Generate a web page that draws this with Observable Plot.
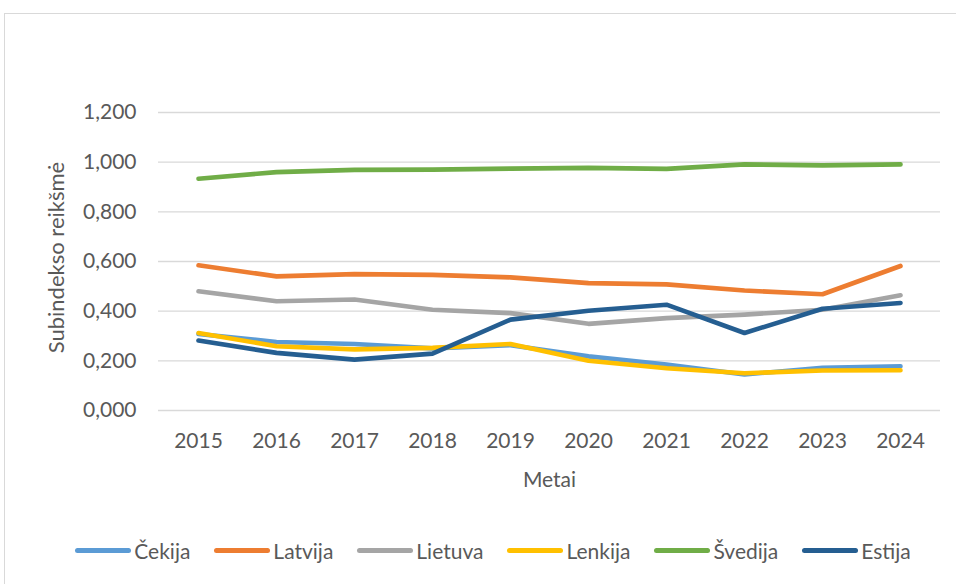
<!DOCTYPE html>
<html><head><meta charset="utf-8">
<script src="https://cdn.jsdelivr.net/npm/d3@7"></script>
<script src="https://cdn.jsdelivr.net/npm/@observablehq/plot@0.6"></script>
<style>
html,body{margin:0;padding:0;background:#fff;overflow:hidden;width:956px;height:584px;position:relative;}
#frame{position:absolute;left:4px;top:13px;width:1100px;height:700px;border:1px solid #d9d9d9;box-sizing:border-box;}
#chart{position:absolute;left:0;top:0;}
#chart svg{display:block;}
#legend{position:absolute;left:0;top:535px;width:956px;height:30px;padding-left:30px;box-sizing:border-box;display:flex;justify-content:center;align-items:center;gap:24px;font-family:Lato,sans-serif;font-size:21px;color:#595959;}
.item{display:flex;align-items:center;}
.sw{width:56px;height:5px;border-radius:3px;margin-right:3px;}
</style>
</head><body>
<div id="frame"></div>
<div id="chart"></div>
<div id="legend"></div>
<script>
const years = [2015, 2016, 2017, 2018, 2019, 2020, 2021, 2022, 2023, 2024];
const countries = ["Čekija", "Latvija", "Lietuva", "Lenkija", "Švedija", "Estija"];
const colors = ["#5B9BD5", "#ED7D31", "#A5A5A5", "#FFC000", "#70AD47", "#255E91"];

const cekija  = [0.308, 0.276, 0.268, 0.250, 0.263, 0.218, 0.185, 0.145, 0.172, 0.178];
const latvija = [0.585, 0.540, 0.549, 0.546, 0.536, 0.513, 0.508, 0.483, 0.468, 0.582];
const lietuva = [0.480, 0.440, 0.447, 0.406, 0.392, 0.349, 0.372, 0.386, 0.406, 0.464];
const lenkija = [0.312, 0.259, 0.246, 0.252, 0.268, 0.200, 0.170, 0.150, 0.161, 0.162];
const svedija = [0.933, 0.960, 0.969, 0.970, 0.974, 0.977, 0.973, 0.991, 0.987, 0.991];
const estija  = [0.282, 0.232, 0.205, 0.229, 0.366, 0.402, 0.426, 0.312, 0.410, 0.433];

const yTicks = [0, 0.2, 0.4, 0.6, 0.8, 1.0, 1.2];
const yTickLabels = ["0,000", "0,200", "0,400", "0,600", "0,800", "1,000", "1,200"];
const xLabel = "Metai";
const yLabel = "Subindekso reikšmė";

const series = [cekija, latvija, lietuva, lenkija, svedija, estija];
const rows = [];
countries.forEach((c, i) => series[i].forEach((v, j) => rows.push({country: c, year: years[j], value: v})));

const chart = Plot.plot({
  width: 956,
  height: 500,
  marginTop: 112,
  marginBottom: 90,
  marginLeft: 158,
  marginRight: 16,
  style: {fontFamily: "Lato, sans-serif", fontSize: "21px", color: "#595959", background: "transparent"},
  x: {type: "point", domain: years, padding: 0.5, label: null},
  y: {domain: [0, 1.2], label: null},
  color: {domain: countries, range: colors},
  marks: [
    Plot.ruleY(yTicks, {stroke: "#d9d9d9", strokeWidth: 1.3}),
    Plot.axisY({ticks: yTicks, tickFormat: d => yTickLabels[yTicks.indexOf(d)], tickSize: 0, tickPadding: 22, label: null}),
    Plot.axisX({ticks: years, tickFormat: d => String(d), tickSize: 0, tickPadding: 23, label: null}),
    Plot.line(rows, {x: "year", y: "value", z: "country", stroke: "country", strokeWidth: 4.6, strokeLinecap: "round", strokeLinejoin: "round"}),
    Plot.text([xLabel], {frameAnchor: "bottom", textAnchor: "middle", lineAnchor: "middle", dy: 70, fontSize: 21}),
    Plot.text([yLabel], {frameAnchor: "left", textAnchor: "middle", lineAnchor: "middle", dx: -102, dy: -4, rotate: -90, fontSize: 22})
  ]
});
document.getElementById("chart").appendChild(chart);

const legend = document.getElementById("legend");
countries.forEach((c, i) => {
  const item = document.createElement("div");
  item.className = "item";
  const sw = document.createElement("div");
  sw.className = "sw";
  sw.style.background = colors[i];
  const t = document.createElement("span");
  t.textContent = c;
  item.appendChild(sw);
  item.appendChild(t);
  legend.appendChild(item);
});
</script>
</body></html>
